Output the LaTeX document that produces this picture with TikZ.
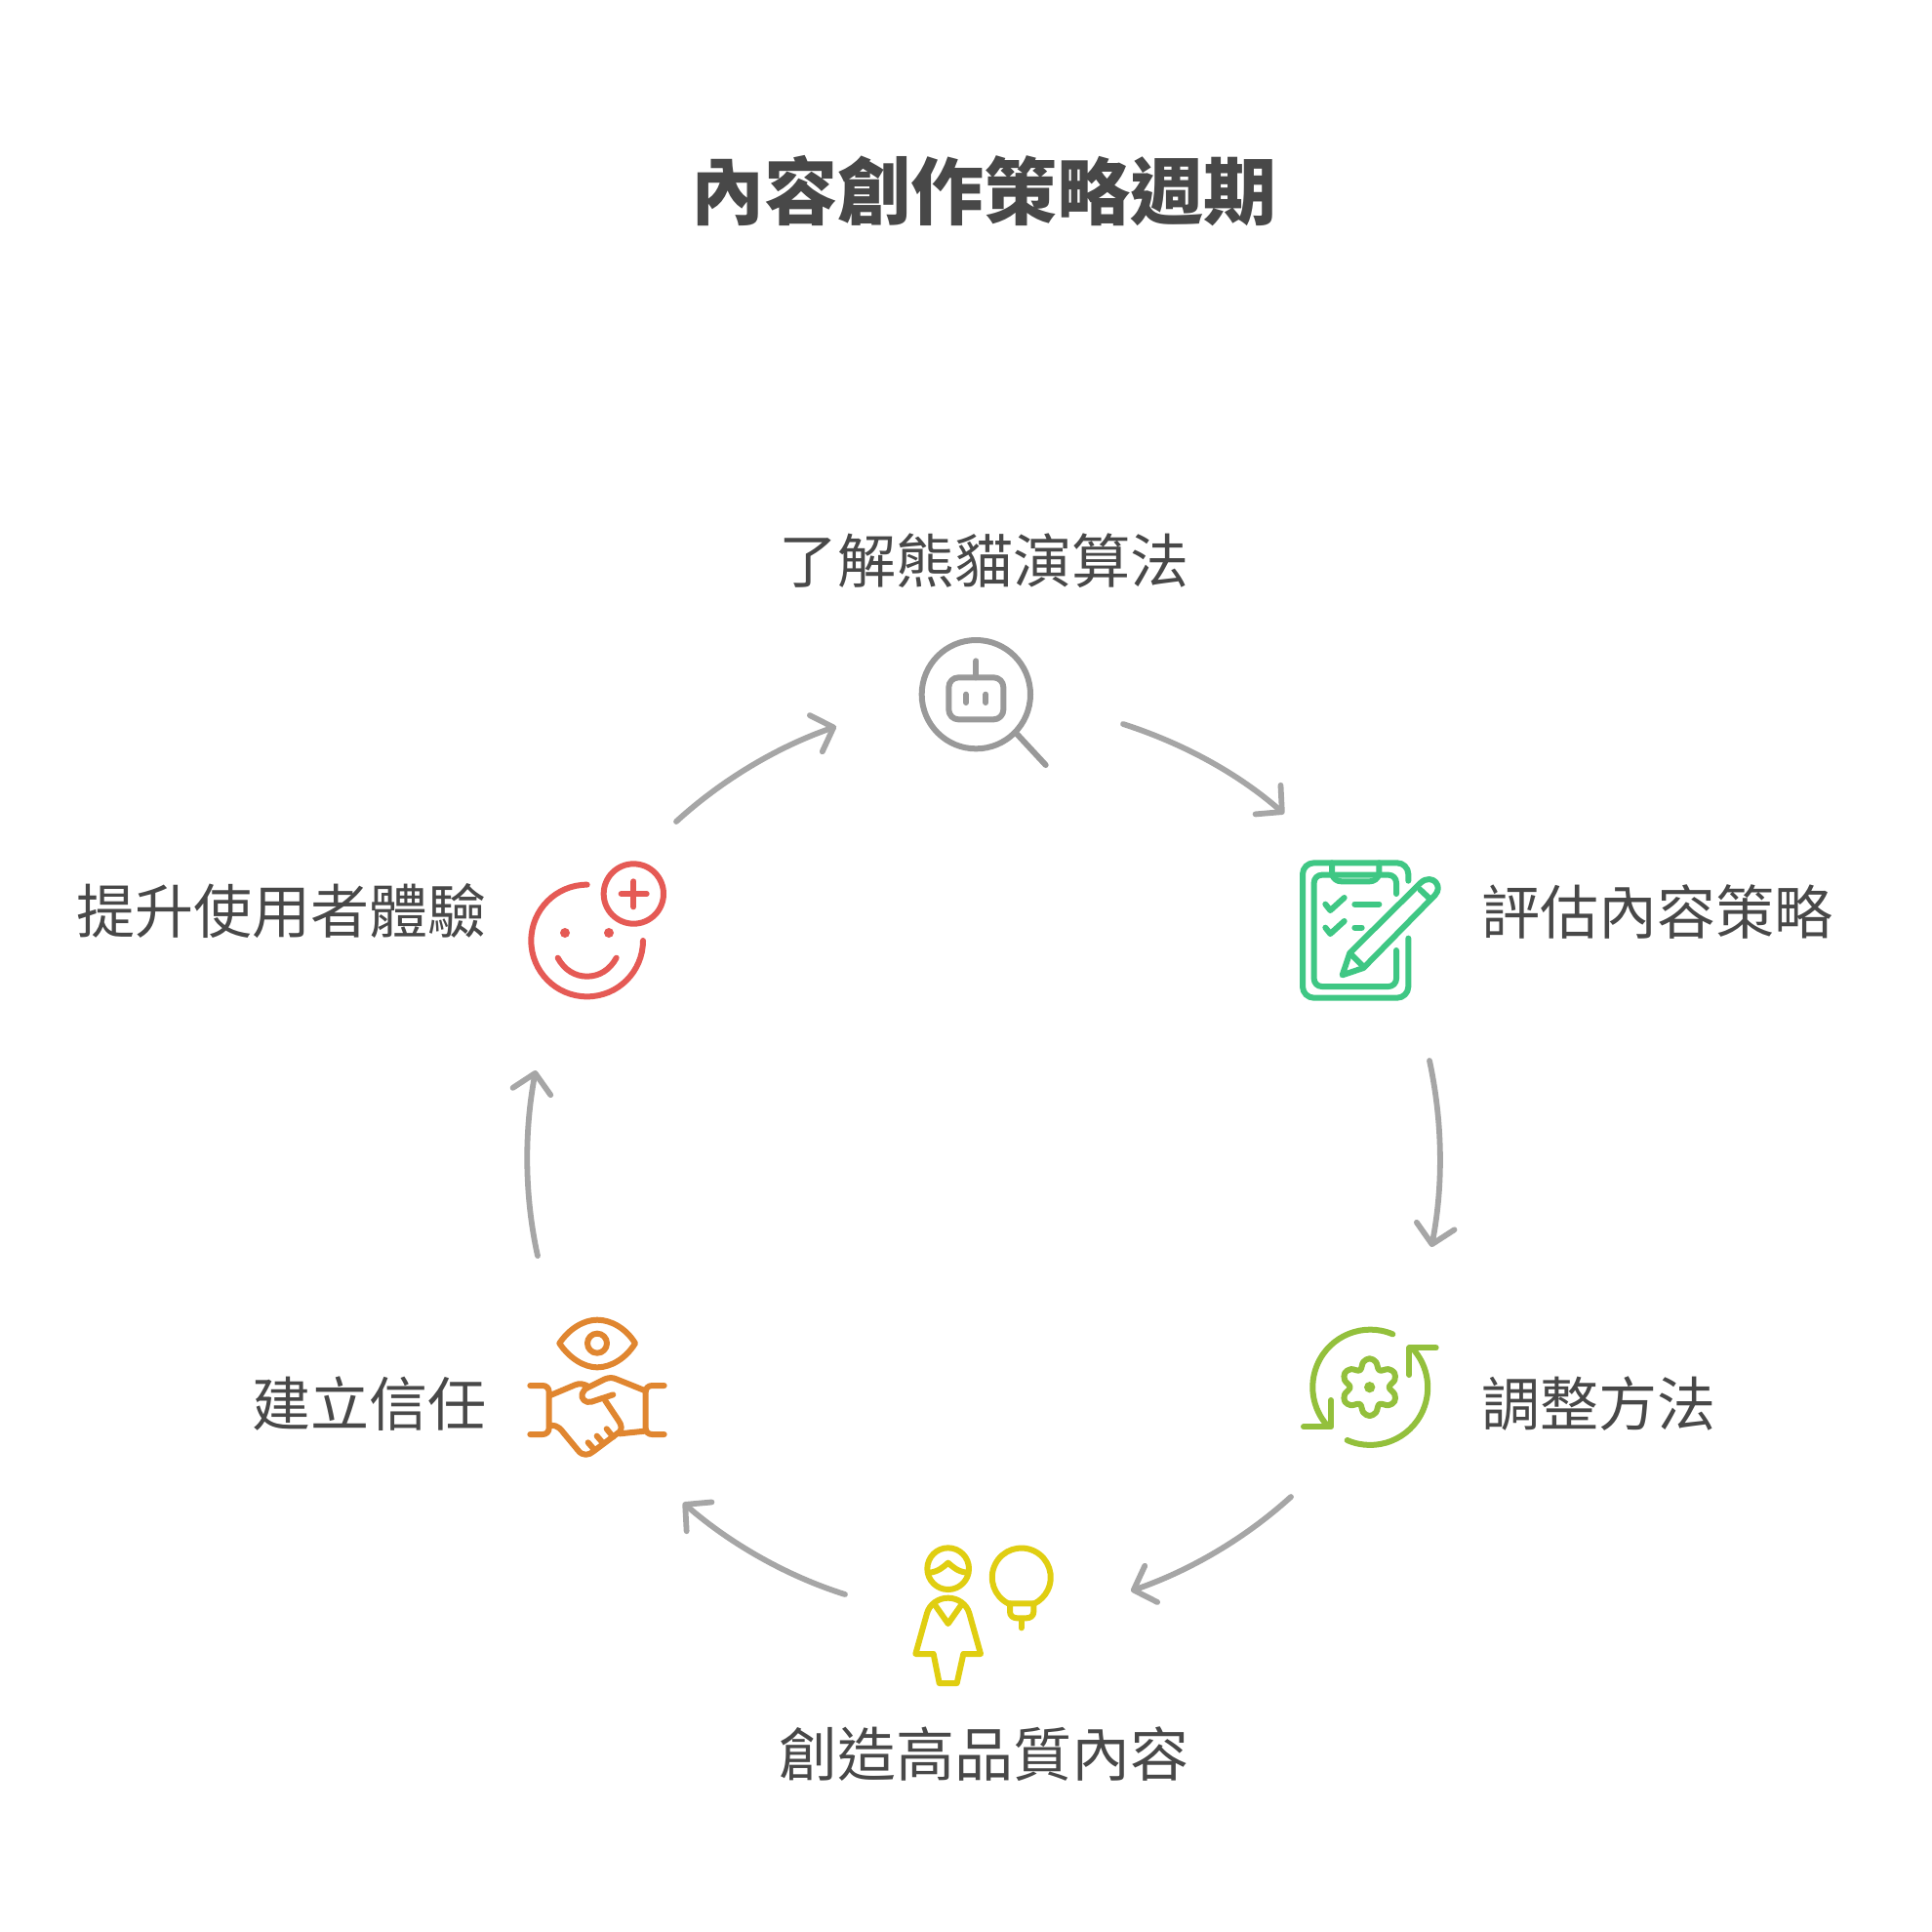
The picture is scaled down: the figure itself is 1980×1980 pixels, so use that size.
\documentclass[tikz,border=0pt]{standalone}
\usepackage{fontspec}
\usepackage{tikz}
\usetikzlibrary{arrows.meta}
\setmainfont{Noto Sans CJK TC}
\definecolor{txt}{HTML}{484848}
\definecolor{conncol}{HTML}{A6A6A6}
\definecolor{robotcol}{HTML}{999999}
\definecolor{greencol}{HTML}{3FC784}
\definecolor{limecol}{HTML}{93C03C}
\definecolor{yellowcol}{HTML}{E0CE11}
\definecolor{orangecol}{HTML}{E08630}
\definecolor{redcol}{HTML}{E55A55}
\tikzset{
  titletext/.style={inner sep=0pt,text=txt,font=\fontsize{106.7}{120}\selectfont\bfseries},
  labeltext/.style={inner sep=0pt,text=txt,font=\fontsize{85.4}{100}\selectfont},
  conn/.style={draw=conncol,line width=0.29cm,line cap=round,-{Straight Barb[length=27pt,width=56pt,round]}},
  ico/.style={line width=0.3cm,line cap=round,line join=round},
  zoomed/.style={shift={#1},scale=0.33333},
}
\begin{document}
\begin{tikzpicture}[x=0.05cm,y=-0.05cm]
\useasboundingbox (0,0) rectangle (1980,1980);
\fill[white] (0,0) rectangle (1980,1980);

% texts
\node[titletext] (title) at (1008,196) {內容創作策略週期};
\node[labeltext] (understand) at (1008.5,574.5) {了解熊貓演算法};
\node[labeltext,anchor=west] (evaluate) at (1518,934) {評估內容策略};
\node[labeltext,anchor=west] (adjust) at (1518,1438.5) {調整方法};
\node[labeltext] (create) at (1008.5,1798) {創造高品質內容};
\node[labeltext,anchor=east] (trust) at (498.5,1438.5) {建立信任};
\node[labeltext,anchor=east] (experience) at (498.5,934) {提升使用者體驗};

% connector ends
\coordinate (robotout) at (1151,742);
\coordinate (clipin) at (1316,834);
\coordinate (clipout) at (1465,1087);
\coordinate (gearin) at (1467,1278);
\coordinate (gearout) at (1323,1534);
\coordinate (personin) at (1159,1630.5);
\coordinate (personout) at (866,1634);
\coordinate (shakein) at (700,1540);
\coordinate (shakeout) at (551,1287);
\coordinate (smilein) at (549,1097);
\coordinate (smileout) at (693,842);
\coordinate (robotin) at (857,744.5);

\draw[conn] (robotout) .. controls (1211.2,761.5) and (1267.3,791.4) .. (clipin);
\draw[conn] (clipout) .. controls (1478.5,1149.6) and (1479.4,1214.2) .. (gearin);
\draw[conn] (gearout) .. controls (1276,1576.6) and (1220,1609.4) .. (personin);
\draw[conn] (personout) .. controls (806,1615) and (748.7,1582.2) .. (shakein);
\draw[conn] (shakeout) .. controls (537.4,1225.5) and (537.1,1159.9) .. (smilein);
\draw[conn] (smileout) .. controls (739.5,799.5) and (796.4,765.5) .. (robotin);

% robot magnifier
\begin{scope}[zoomed={(900,620)},ico,draw=robotcol]
  \draw (301,275) circle[radius=167];
  \draw (425,395) -- (515,492);
  \draw[rounded corners=0.5cm] (217,223) rectangle (385,352);
  \draw (301,172) -- (301,223);
  \draw (270,275) -- (270,300);
  \draw (331,275) -- (331,300);
\end{scope}

% clipboard
\begin{scope}[zoomed={(1310,860)},ico,draw=greencol]
  \draw[rounded corners=0.58cm] (400,128) -- (400,73) -- (75,73) -- (75,488) -- (400,488) -- (400,305);
  \draw[rounded corners=0.4cm] (363,168) -- (363,110) -- (110,110) -- (110,453) -- (363,453) -- (363,342);
  \draw (165,73) -- (165,108) .. controls (170,122) and (180,130) .. (195,130) -- (280,130) .. controls (295,130) and (305,122) .. (310,108) -- (310,73);
  \draw (145,200) -- (160,219) -- (203,180);
  \draw (145,272) -- (160,291) -- (203,252);
  \draw (235,200) -- (310,200);
  \draw (235,272) -- (257,272);
  \draw (197,418) -- (220,350) -- (438,134) .. controls (455,118) and (475,122) .. (484,132) .. controls (494,144) and (494,158) .. (482,172) -- (262,396) -- cycle;
  \draw (436,155) -- (468,185);
  \draw (222,352) -- (258,388);
\end{scope}

% gear refresh
\begin{scope}[zoomed={(1310,1340)},ico,draw=limecol]
  \draw (352,82) arc[start angle=-67,end angle=-221,radius=177];
  \draw (212,408) arc[start angle=113.5,end angle=-42,radius=177];
  \draw (78,367) -- (162,367) -- (162,285);
  \draw (485,124) -- (403,124) -- (403,207);
  \fill[limecol] (281,245) circle[radius=17];
  \begin{scope}[shift={(281,245)}]
    \draw plot[smooth cycle,tension=0.6] coordinates {
      (104:80) (90:88) (76:80) (60:60)
      (44:80) (30:88) (16:80) (0:60)
      (-16:80) (-30:88) (-44:80) (-60:60)
      (-76:80) (-90:88) (-104:80) (-120:60)
      (-136:80) (-150:88) (-164:80) (180:60)
      (164:80) (150:88) (136:80) (120:60)};
  \end{scope}
\end{scope}

% person and bulb
\begin{scope}[zoomed={(900,1570)},ico,draw=yellowcol]
  \draw (215,113) circle[radius=64];
  \draw (158,125) .. controls (185,122) and (200,108) .. (215,95) .. controls (230,108) and (245,122) .. (272,125);
  \draw (115,375) -- (150,250) .. controls (158,222) and (185,203) .. (215,203) .. controls (245,203) and (272,222) .. (280,250) -- (315,375) -- (262,375) -- (242,465) -- (188,465) -- (170,375) -- cycle;
  \draw (175,225) -- (215,282) -- (255,225);
  \draw (400,220) arc[start angle=116.6,end angle=423.4,radius=90] -- cycle;
  \draw (405,220) -- (405,245) .. controls (405,258) and (415,265) .. (428,265) -- (455,265) .. controls (468,265) and (478,258) .. (478,245) -- (478,220);
  \draw (440,268) -- (440,295);
\end{scope}

% handshake and eye
\begin{scope}[zoomed={(520,1330)},ico,draw=orangecol]
  \draw (160,140) .. controls (190,95) and (235,68) .. (276,68) .. controls (320,68) and (365,95) .. (393,140) .. controls (365,185) and (320,214) .. (276,214) .. controls (235,214) and (190,185) .. (160,140) -- cycle;
  \draw (276,140) circle[radius=30];
  \draw (70,270) -- (108,270) .. controls (120,270) and (128,278) .. (128,290) -- (128,400) .. controls (128,412) and (120,420) .. (108,420) -- (70,420);
  \draw (482,270) -- (445,270) .. controls (433,270) and (425,278) .. (425,290) -- (425,400) .. controls (425,412) and (433,420) .. (445,420) -- (482,420);
  \draw (132,300) -- (208,268) .. controls (222,262) and (235,265) .. (248,272);
  \draw (325,298) -- (258,320) .. controls (240,325) and (225,310) .. (230,295) .. controls (232,285) and (240,280) .. (250,275) -- (300,250) .. controls (312,245) and (325,245) .. (335,250) -- (422,285);
  \draw (300,315) -- (342,378) .. controls (352,392) and (352,405) .. (345,412) -- (265,472) .. controls (250,485) and (232,487) .. (218,470) -- (175,418) .. controls (165,405) and (155,392) .. (135,392);
  \draw (345,418) -- (422,410);
  \draw (248,445) -- (268,468);
  \draw (275,425) -- (295,448);
  \draw (305,403) -- (325,428);
\end{scope}

% smile plus
\begin{scope}[zoomed={(520,870)},ico,draw=redcol]
  \draw (245,110) arc[start angle=-90,end angle=-360,radius=172];
  \fill[redcol] (177,258) circle[radius=15];
  \fill[redcol] (312,258) circle[radius=15];
  \draw (155,335) .. controls (175,372) and (208,392) .. (245,392) .. controls (282,392) and (315,372) .. (335,335);
  \draw (388,138) circle[radius=92];
  \draw (350,138) -- (428,138);
  \draw (388,100) -- (388,178);
\end{scope}
\end{tikzpicture}
\end{document}
